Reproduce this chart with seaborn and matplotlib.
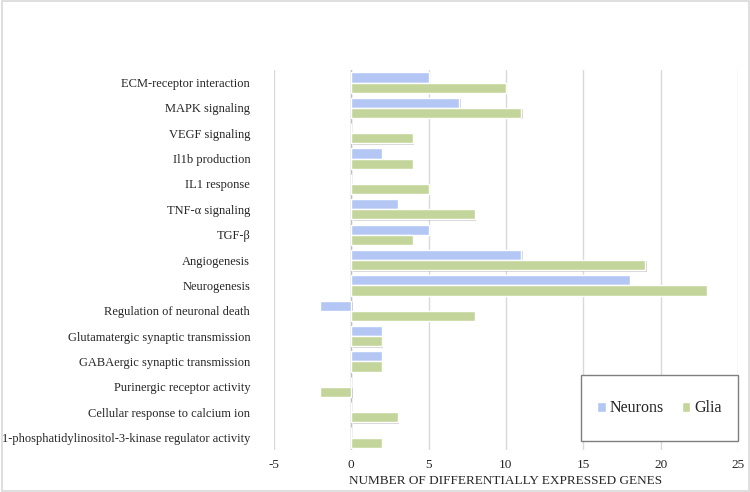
import pandas as pd
import matplotlib.pyplot as plt
import seaborn as sns
from matplotlib.patches import Rectangle
import matplotlib.patheffects as pe

categories = [
    "ECM-receptor interaction",
    "MAPK signaling",
    "VEGF signaling",
    "Il1b production",
    "IL1 response",
    "TNF-\u03b1 signaling",
    "TGF-\u03b2",
    "Angiogenesis",
    "Neurogenesis",
    "Regulation of neuronal death",
    "Glutamatergic synaptic transmission",
    "GABAergic synaptic transmission",
    "Purinergic receptor activity",
    "Cellular response to calcium ion",
    "1-phosphatidylinositol-3-kinase regulator activity",
]
neurons = [5, 7, 0, 2, 0, 3, 5, 11, 18, -2, 2, 2, 0, 0, 0]
glia = [10, 11, 4, 4, 5, 8, 4, 19, 23, 8, 2, 2, -2, 3, 2]
xticks = [-5, 0, 5, 10, 15, 20, 25]

df = pd.DataFrame({
    "Category": categories * 2,
    "Genes": neurons + glia,
    "Group": ["Neurons"] * len(categories) + ["Glia"] * len(categories),
})

sns.set_style("white")
plt.rcParams["font.family"] = ["Liberation Serif", "DejaVu Serif"]

fig = plt.figure(figsize=(7.5, 4.92), dpi=100)
ax = fig.add_axes([0.365, 0.085, 0.619, 0.773])

sns.barplot(data=df, x="Genes", y="Category", hue="Group", orient="h",
            palette={"Neurons": "#b4c6f4", "Glia": "#c4d59c"},
            saturation=1, width=0.8, ax=ax, zorder=3)

# legend first, so the handles stay plain
leg = ax.legend(loc="center", bbox_to_anchor=(0.831, 0.11), ncol=2,
                frameon=False, fontsize=11.5,
                handlelength=0.55, handleheight=0.55, handletextpad=0.25,
                columnspacing=1.1)
leg.set_zorder(6)

# soft shadow under the non-empty bars, like the original
for bar in ax.patches:
    if abs(bar.get_width()) > 0:
        bar.set_path_effects([pe.SimplePatchShadow(offset=(1, -1), shadow_rgbFace="#7f7f7f", alpha=0.35),
                              pe.Normal()])

ax.set_xlim(-5, 25)
ax.set_ylim(14.5, -0.5)
ax.set_xticks(xticks)
ax.set_xticklabels([str(t) for t in xticks], fontsize=9.5)
ax.tick_params(axis="y", length=0, pad=17, labelsize=9)
ax.tick_params(axis="x", length=0, pad=6)
ax.grid(axis="x", color="#d9d9d9", linewidth=1, zorder=0)
ax.axvline(0, color="#bfbfbf", linewidth=1, zorder=2)
for s in ax.spines.values():
    s.set_visible(False)
ax.set_ylabel("")
ax.set_xlabel("NUMBER OF DIFFERENTIALLY EXPRESSED GENES", fontsize=9.5, labelpad=3)

# legend box drawn by hand, legend entries centred inside it
ax.add_patch(Rectangle((0.662, 0.024), 0.338, 0.173, transform=ax.transAxes,
                       facecolor="white", edgecolor="#7f7f7f", linewidth=1,
                       zorder=5, clip_on=False))

fig.patches.append(Rectangle((0.002, 0.002), 0.996, 0.996, transform=fig.transFigure,
                             fill=False, edgecolor="#d9d9d9", linewidth=1.2))

fig.savefig("out.png", dpi=100)
